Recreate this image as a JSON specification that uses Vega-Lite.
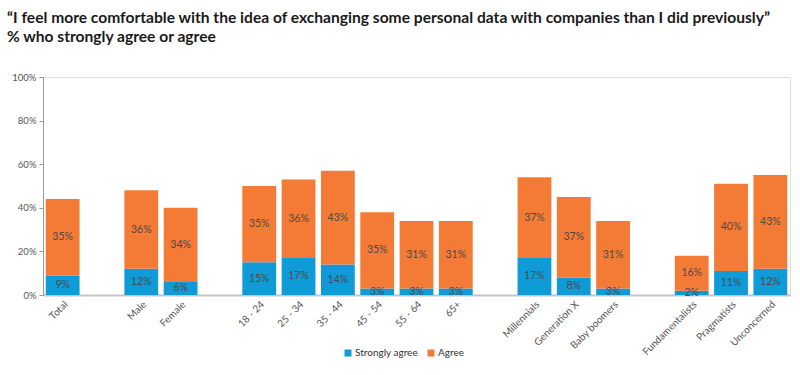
{
  "$schema": "https://vega.github.io/schema/vega-lite/v6.json",
  "width": 747,
  "height": 218,
  "autosize": {"type": "none"},
  "padding": {"left": 43, "top": 77, "right": 10, "bottom": 80},
  "background": "white",
  "title": {
    "text": ["“I feel more comfortable with the idea of exchanging some personal data with companies than I did previously”", "% who strongly agree or agree"],
    "anchor": "start",
    "frame": "group",
    "dx": -36,
    "offset": 26,
    "font": "Lato",
    "fontSize": 15.6,
    "fontWeight": "bold",
    "color": "#1a1a1a",
    "lineHeight": 19
  },
  "data": {
    "values": [
      {"group": "Total", "response": "Strongly agree", "value": 0.09},
      {"group": "Total", "response": "Agree", "value": 0.35},
      {"group": "Male", "response": "Strongly agree", "value": 0.12},
      {"group": "Male", "response": "Agree", "value": 0.36},
      {"group": "Female", "response": "Strongly agree", "value": 0.06},
      {"group": "Female", "response": "Agree", "value": 0.34},
      {"group": "18 - 24", "response": "Strongly agree", "value": 0.15},
      {"group": "18 - 24", "response": "Agree", "value": 0.35},
      {"group": "25 - 34", "response": "Strongly agree", "value": 0.17},
      {"group": "25 - 34", "response": "Agree", "value": 0.36},
      {"group": "35 - 44", "response": "Strongly agree", "value": 0.14},
      {"group": "35 - 44", "response": "Agree", "value": 0.43},
      {"group": "45 - 54", "response": "Strongly agree", "value": 0.03},
      {"group": "45 - 54", "response": "Agree", "value": 0.35},
      {"group": "55 - 64", "response": "Strongly agree", "value": 0.03},
      {"group": "55 - 64", "response": "Agree", "value": 0.31},
      {"group": "65+", "response": "Strongly agree", "value": 0.03},
      {"group": "65+", "response": "Agree", "value": 0.31},
      {"group": "Millennials", "response": "Strongly agree", "value": 0.17},
      {"group": "Millennials", "response": "Agree", "value": 0.37},
      {"group": "Generation X", "response": "Strongly agree", "value": 0.08},
      {"group": "Generation X", "response": "Agree", "value": 0.37},
      {"group": "Baby boomers", "response": "Strongly agree", "value": 0.03},
      {"group": "Baby boomers", "response": "Agree", "value": 0.31},
      {"group": "Fundamentalists", "response": "Strongly agree", "value": 0.02},
      {"group": "Fundamentalists", "response": "Agree", "value": 0.16},
      {"group": "Pragmatists", "response": "Strongly agree", "value": 0.11},
      {"group": "Pragmatists", "response": "Agree", "value": 0.40},
      {"group": "Unconcerned", "response": "Strongly agree", "value": 0.12},
      {"group": "Unconcerned", "response": "Agree", "value": 0.43}
    ]
  },
  "encoding": {
    "x": {
      "field": "group",
      "type": "nominal",
      "scale": {
        "domain": ["Total", "_1", "Male", "Female", "_2", "18 - 24", "25 - 34", "35 - 44", "45 - 54", "55 - 64", "65+", "_3", "Millennials", "Generation X", "Baby boomers", "_4", "Fundamentalists", "Pragmatists", "Unconcerned"],
        "paddingInner": 0.14,
        "paddingOuter": 0.07
      },
      "axis": {
        "title": null,
        "labelAngle": -45,
        "labelExpr": "indexof(datum.value, '_') == 0 ? '' : datum.value",
        "labelFont": "Lato",
        "labelFontSize": 10,
        "labelColor": "#555555",
        "ticks": false,
        "labelPadding": 4,
        "domainColor": "#c4c4c4",
        "domainWidth": 2
      }
    },
    "y": {
      "field": "value",
      "type": "quantitative",
      "stack": "zero",
      "scale": {"domain": [0, 1]},
      "axis": {
        "title": null,
        "values": [0, 0.2, 0.4, 0.6, 0.8, 1],
        "format": ".0%",
        "grid": false,
        "labelFont": "Lato",
        "labelFontSize": 9.5,
        "labelColor": "#555555",
        "tickColor": "#999999",
        "tickSize": 4,
        "domainColor": "#999999",
        "labelPadding": 3
      }
    },
    "order": {"field": "response", "sort": "descending"}
  },
  "layer": [
    {
      "mark": {"type": "bar"},
      "encoding": {
        "color": {
          "field": "response",
          "type": "nominal",
          "scale": {"domain": ["Strongly agree", "Agree"], "range": ["#0f9bd7", "#f47b35"]},
          "legend": {
            "title": null,
            "orient": "none",
            "direction": "horizontal",
            "legendX": 300,
            "legendY": 271,
            "symbolType": "square",
            "symbolSize": 49,
            "symbolStrokeWidth": 0,
            "labelFont": "Lato",
            "labelFontSize": 10,
            "labelColor": "#333333",
            "labelOffset": 2,
            "columnPadding": 8
          }
        }
      }
    },
    {
      "mark": {"type": "text", "font": "Lato", "fontSize": 10.5, "color": "#4a4a4a", "baseline": "middle"},
      "encoding": {
        "y": {"field": "value", "type": "quantitative", "stack": "zero", "bandPosition": 0.5},
        "detail": {"field": "response"},
        "text": {"field": "value", "type": "quantitative", "format": ".0%"}
      }
    }
  ]
}
